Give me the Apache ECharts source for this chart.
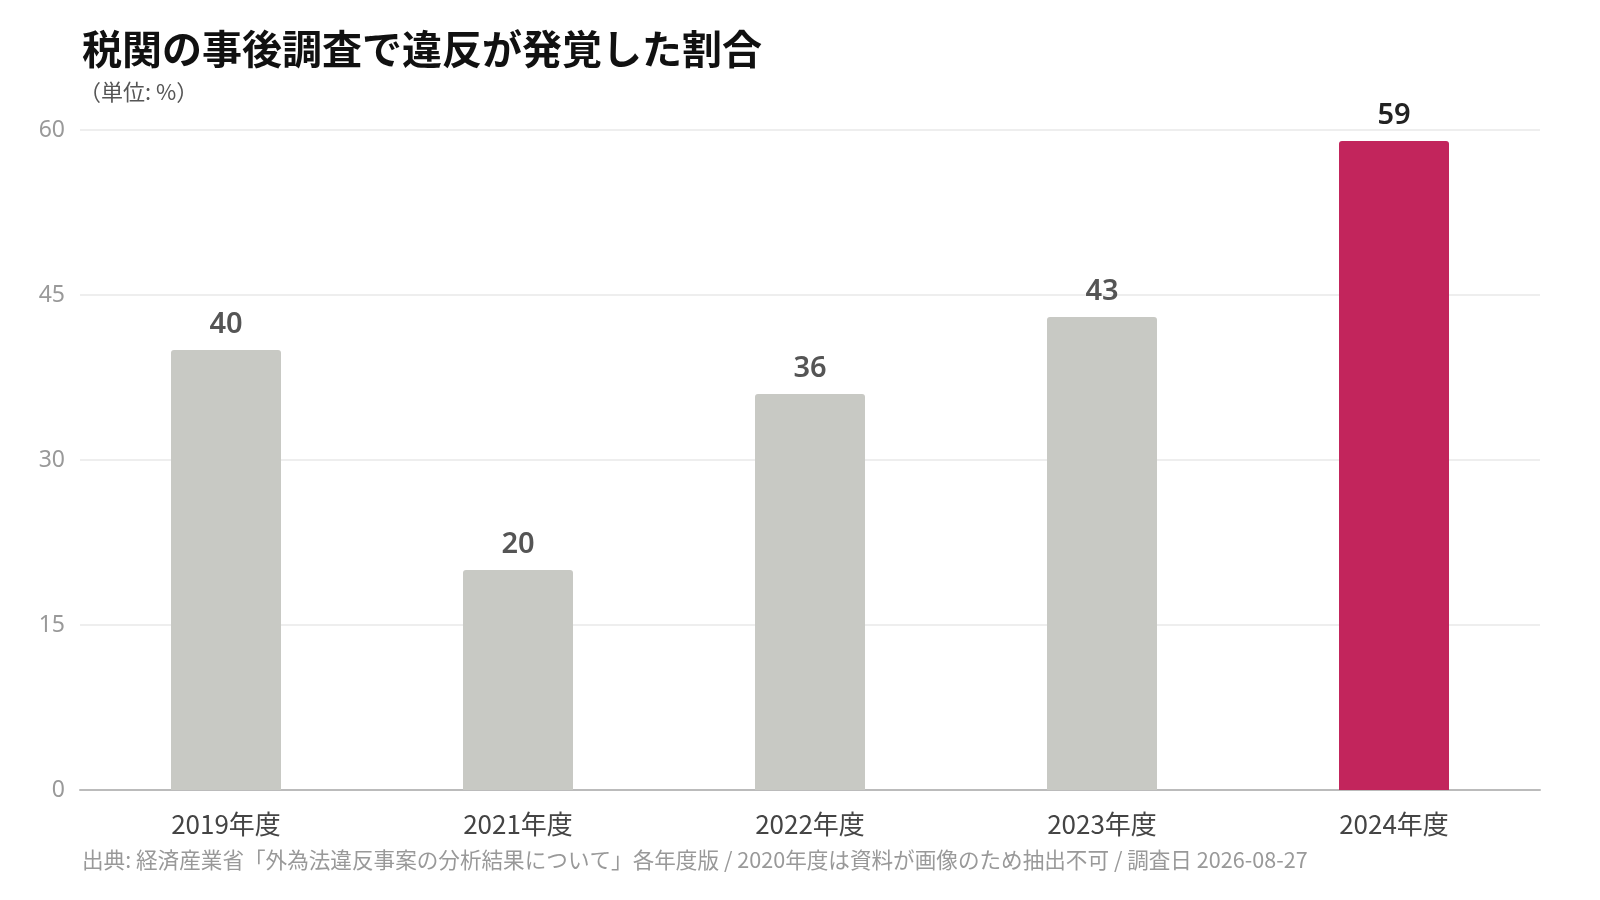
<!DOCTYPE html>
<html>
<head>
<meta charset="utf-8">
<script src="https://cdn.jsdelivr.net/npm/echarts@6/dist/echarts.min.js"></script>
<style>
html,body{margin:0;padding:0;background:#fff;}
#chart{width:1600px;height:900px;}
</style>
</head>
<body>
<div id="chart"></div>
<script>
var years = ['2019年度', '2021年度', '2022年度', '2023年度', '2024年度'];
var rates = [40, 20, 36, 43, 59];
var yTicks = [0, 15, 30, 45, 60];

var font = '"Noto Sans CJK JP", "Noto Sans", sans-serif';
var numFont = '"Noto Sans", "Noto Sans CJK JP", sans-serif';
var chart = echarts.init(document.getElementById('chart'));

var barData = rates.map(function (v, i) {
    var last = i == rates.length - 1;
    return {
        value: v,
        itemStyle: { color: last ? '#C2255C' : '#C8C9C4' },
        label: { color: last ? '#222' : '#555' }
    };
});

var option = {
    backgroundColor: '#fff',
    textStyle: { fontFamily: font },
    title: [{
        text: '税関の事後調査で違反が発覚した割合',
        left: 77,
        top: 24,
        textStyle: { fontSize: 40, fontWeight: 'bold', color: '#111', fontFamily: font }
    }, {
        text: '（単位: %）',
        left: 74,
        top: 76,
        textStyle: { fontSize: 22, fontWeight: 'normal', color: '#555', fontFamily: font }
    }, {
        text: '出典: 経済産業省「外為法違反事案の分析結果について」各年度版 / 2020年度は資料が画像のため抽出不可 / 調査日 2026-08-27',
        left: 77,
        top: 844,
        textStyle: { fontSize: 21.6, fontWeight: 'normal', color: '#999', fontFamily: font }
    }],
    grid: { left: 80, right: 60, top: 130, bottom: 110 },
    xAxis: {
        type: 'category',
        data: years,
        axisTick: { show: false },
        axisLine: { lineStyle: { color: '#bbb', width: 2 } },
        axisLabel: { fontSize: 26, color: '#444', margin: 21, fontFamily: font }
    },
    yAxis: {
        type: 'value',
        min: yTicks[0],
        max: yTicks[yTicks.length - 1],
        interval: 15,
        axisLine: { show: false },
        axisTick: { show: false },
        splitLine: { lineStyle: { color: '#eee', width: 2 } },
        axisLabel: { fontSize: 23, color: '#999', margin: 15, fontFamily: numFont }
    },
    series: [{
        type: 'bar',
        data: barData,
        barWidth: 110,
        itemStyle: { borderRadius: [3, 3, 0, 0] },
        label: {
            show: true,
            position: 'top',
            distance: 11,
            fontSize: 29,
            fontWeight: 600,
            fontFamily: numFont
        }
    }]
};

chart.setOption(option);
</script>
</body>
</html>
